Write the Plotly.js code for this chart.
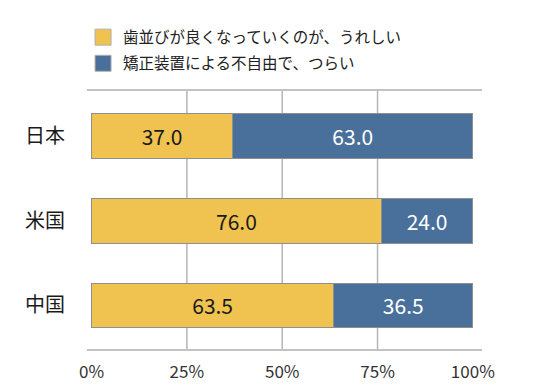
<!DOCTYPE html>
<html>
<head>
<meta charset="utf-8">
<script src="https://cdn.plot.ly/plotly-3.0.1.min.js"></script>
<style>html,body{margin:0;padding:0;background:#fff;}#chart{width:536px;height:391px;}</style>
</head>
<body>
<div id="chart"></div>
<script>
const categories = ["日本", "米国", "中国"];
const seriesNames = ["歯並びが良くなっていくのが、うれしい", "矯正装置による不自由で、つらい"];
const happyValues = [37.0, 76.0, 63.5];
const hardValues = [63.0, 24.0, 36.5];
const tickValues = [0, 25, 50, 75, 100];
const tickLabels = ["0%", "25%", "50%", "75%", "100%"];
const gridValues = [25, 50, 75];

const FONT = '"Noto Sans CJK JP", "Noto Sans", sans-serif';
const YELLOW = '#F0C350';
const BLUE = '#48709A';
const EDGE = '#8f8f8f';

const barCommon = {
  type: 'bar', orientation: 'h', y: categories, width: 0.53,
  textposition: 'inside', insidetextanchor: 'middle', texttemplate: '%{x:.1f}',
  constraintext: 'none', hoverinfo: 'skip', showlegend: false
};
const traces = [
  Object.assign({}, barCommon, {
    name: seriesNames[0], x: happyValues,
    marker: {color: YELLOW, line: {color: EDGE, width: 1}},
    textfont: {family: FONT, size: 21, color: '#1a1a1a'}
  }),
  Object.assign({}, barCommon, {
    name: seriesNames[1], x: hardValues,
    marker: {color: BLUE, line: {color: EDGE, width: 1}},
    textfont: {family: FONT, size: 21, color: '#ffffff'}
  }),
  {type: 'scatter', mode: 'markers', x: [null], y: [null], name: seriesNames[0],
   legendgroup: 'a', marker: {symbol: 'square', size: 17, color: YELLOW, line: {color: '#b0b0b0', width: 1}}},
  {type: 'scatter', mode: 'markers', x: [null], y: [null], name: seriesNames[1],
   legendgroup: 'b', marker: {symbol: 'square', size: 17, color: BLUE, line: {color: '#b0b0b0', width: 1}}}
];

const shapes = gridValues.map(v => ({
  type: 'line', xref: 'x', yref: 'paper', x0: v, x1: v, y0: 0, y1: 1,
  line: {color: '#b5b5b5', width: 1.5}, layer: 'below'
}));

const layout = {
  width: 536, height: 391,
  margin: {l: 87, r: 54, t: 91, b: 42},
  barmode: 'stack',
  paper_bgcolor: '#ffffff', plot_bgcolor: '#ffffff',
  font: {family: FONT, color: '#222'},
  showlegend: true,
  legend: {
    x: -0.01, xanchor: 'left', y: 1.273, yanchor: 'top', yref: 'paper',
    font: {family: FONT, size: 15.5, color: '#222'},
    traceorder: 'grouped', tracegroupgap: 3, itemclick: false,
    bgcolor: 'rgba(0,0,0,0)'
  },
  xaxis: {
    range: [-1.2, 102.4], tickvals: tickValues, ticktext: tickLabels,
    showgrid: false, zeroline: false, showline: true, mirror: true,
    linecolor: '#c2c2c2', linewidth: 2, ticks: '', ticklabelstandoff: 7,
    tickfont: {family: FONT, size: 17, color: '#333'}, fixedrange: true
  },
  yaxis: {
    range: [2.515, -0.535], showgrid: false, zeroline: false, showline: false,
    ticks: '', ticklabelstandoff: 21,
    tickfont: {family: FONT, size: 20, color: '#1a1a1a'}, fixedrange: true
  },
  shapes: shapes
};

Plotly.newPlot('chart', traces, layout, {staticPlot: true, displayModeBar: false});
</script>
</body>
</html>
